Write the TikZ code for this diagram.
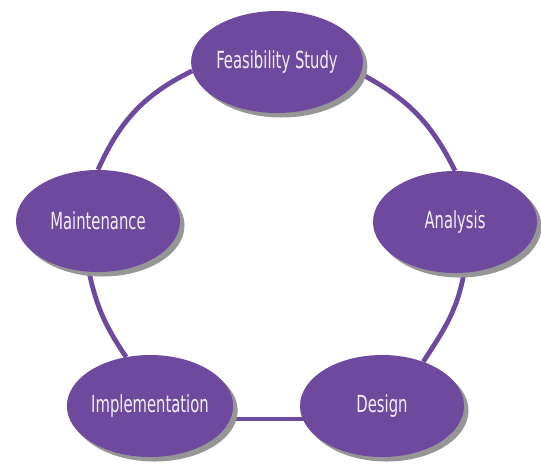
\documentclass[tikz,border=0pt]{standalone}
\usepackage{fontspec}
\newfontfamily\phasefont{DejaVu Sans}
\usetikzlibrary{shapes.geometric,shadows,backgrounds}
\definecolor{phasepurple}{RGB}{110,74,158}
\definecolor{phaseshadow}{RGB}{150,150,150}
\definecolor{phasetext}{RGB}{242,238,248}
\newcommand{\phaselabel}[1]{\scalebox{0.63}[1]{#1}}
\begin{document}
\begin{tikzpicture}[x=1pt,y=-1pt,
		phase/.style={ellipse,fill=phasepurple,minimum width=164,minimum height=102,inner sep=0pt,
			text=phasetext,font=\phasefont\fontsize{23.5}{26}\selectfont,
			drop shadow={shadow xshift=4.5pt,shadow yshift=-4.5pt,fill=phaseshadow,opacity=1}},
		link/.style={draw=phasepurple,line width=4.8pt}]
		\useasboundingbox (0,0) rectangle (541,464);
		% phases
			\node[phase] (feas)   at (277,62)  {\phaselabel{Feasibility Study}};
			\node[phase] (anal)   at (455,222) {\phaselabel{Analysis}};
			\node[phase] (design) at (382,406) {\phaselabel{Design}};
			\node[phase] (impl)   at (150,406) {\phaselabel{Implementation}};
			\node[phase] (maint)  at (98,221)  {\phaselabel{Maintenance}};
		% cycle
		\begin{scope}[on background layer]
			\draw[link] (feas.-8)    to[out=-28,in=116] (anal.north);
			\draw[link] (anal.-80)   to[out=-100,in=57] (design.47);
			\draw[link] ([yshift=-13pt]design.center) -- ([yshift=-13pt]impl.center);
			\draw[link] (maint.-100) to[out=-78,in=124] (impl.116);
			\draw[link] (feas.186)   to[out=206,in=66]  (maint.north);
		\end{scope}
	\end{tikzpicture}
\end{document}
